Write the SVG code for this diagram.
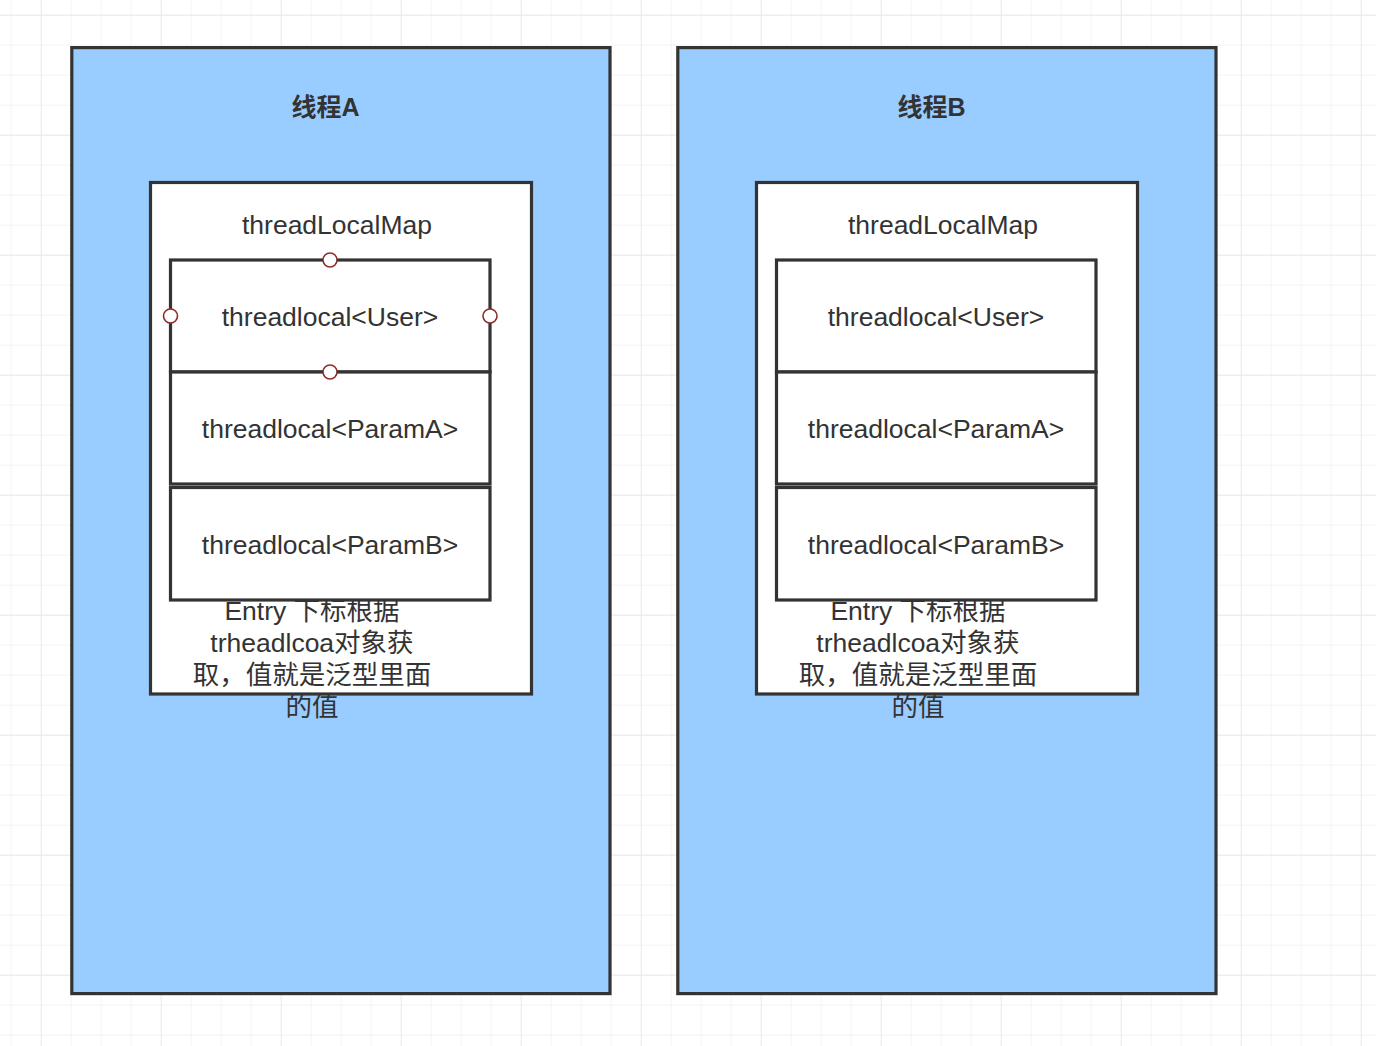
<svg xmlns="http://www.w3.org/2000/svg" width="1376" height="1046" viewBox="0 0 1376 1046">
<defs>
<pattern id="minor" patternUnits="userSpaceOnUse" x="10.7" y="14.7" width="30" height="30">
<path d="M0 0V30M0 0H30" stroke="#f0f0f0" stroke-width="1.3" fill="none"/>
</pattern>
<pattern id="major" patternUnits="userSpaceOnUse" x="40.7" y="14.7" width="120" height="120">
<path d="M0 0V120M0 0H120" stroke="#e6e6e6" stroke-width="1.3" fill="none"/>
</pattern>
<style>
.thread{fill:#99ccff;stroke:#333333;stroke-width:3.2}
.box{fill:#ffffff;stroke:#333333;stroke-width:3.2}
.title{font-family:"Liberation Sans","Noto Sans CJK SC",sans-serif;font-size:25px;font-weight:bold;fill:#333333;text-anchor:middle}
.lbl{font-family:"Liberation Sans","Noto Sans CJK SC",sans-serif;font-size:26.5px;fill:#333333;text-anchor:middle}
.pt{fill:#ffffff;stroke:#8c2d2d;stroke-width:1.6}
</style>
</defs>
<rect width="1376" height="1046" fill="#ffffff"/>
<rect width="1376" height="1046" fill="url(#minor)"/>
<rect width="1376" height="1046" fill="url(#major)"/>

<g id="threadA">
<rect class="thread" x="71.8" y="47.6" width="538.2" height="946"/>
<text class="title" x="325.5" y="116">线程A</text>
</g>
<g id="mapA">
<rect class="box" x="150.5" y="182.5" width="381" height="511.5"/>
<text class="lbl" x="337" y="234">threadLocalMap</text>
<text class="lbl" x="312" y="620">Entry  下标根据</text>
<text class="lbl" x="312" y="652">trheadlcoa对象获</text>
<text class="lbl" x="312" y="684">取，值就是泛型里面</text>
<text class="lbl" x="312" y="716">的值</text>
</g>
<g id="userA">
<rect class="box" x="170.5" y="260" width="319.5" height="112"/>
<text class="lbl" x="330" y="326">threadlocal&lt;User&gt;</text>
</g>
<g id="paramAA">
<rect class="box" x="170.5" y="372" width="319.5" height="112"/>
<text class="lbl" x="330" y="438">threadlocal&lt;ParamA&gt;</text>
</g>
<g id="paramBA">
<rect class="box" x="170.5" y="487.5" width="319.5" height="112.5"/>
<text class="lbl" x="330" y="554">threadlocal&lt;ParamB&gt;</text>
</g>
<g id="pointsA">
<circle class="pt" cx="330" cy="260" r="7"/>
<circle class="pt" cx="170.5" cy="316" r="7"/>
<circle class="pt" cx="490" cy="316" r="7"/>
<circle class="pt" cx="330" cy="372" r="7"/>
</g>

<g id="threadB">
<rect class="thread" x="677.8" y="47.6" width="538.2" height="946"/>
<text class="title" x="931.5" y="116">线程B</text>
</g>
<g id="mapB">
<rect class="box" x="756.5" y="182.5" width="381" height="511.5"/>
<text class="lbl" x="943" y="234">threadLocalMap</text>
<text class="lbl" x="918" y="620">Entry  下标根据</text>
<text class="lbl" x="918" y="652">trheadlcoa对象获</text>
<text class="lbl" x="918" y="684">取，值就是泛型里面</text>
<text class="lbl" x="918" y="716">的值</text>
</g>
<g id="userB">
<rect class="box" x="776.5" y="260" width="319.5" height="112"/>
<text class="lbl" x="936" y="326">threadlocal&lt;User&gt;</text>
</g>
<g id="paramAB">
<rect class="box" x="776.5" y="372" width="319.5" height="112"/>
<text class="lbl" x="936" y="438">threadlocal&lt;ParamA&gt;</text>
</g>
<g id="paramBB">
<rect class="box" x="776.5" y="487.5" width="319.5" height="112.5"/>
<text class="lbl" x="936" y="554">threadlocal&lt;ParamB&gt;</text>
</g>
</svg>
